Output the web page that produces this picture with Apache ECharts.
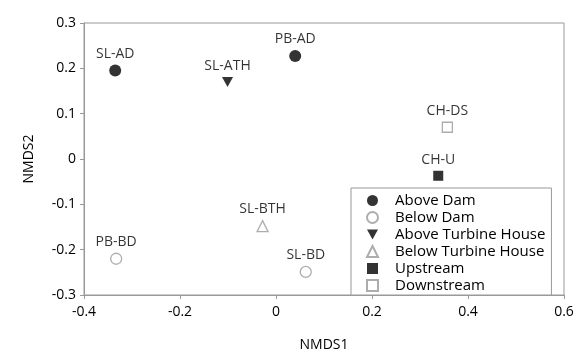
<!DOCTYPE html>
<html><head><meta charset="utf-8">
<script src="https://cdn.jsdelivr.net/npm/echarts@6/dist/echarts.min.js"></script>
<style>html,body{margin:0;padding:0;background:#fff}#c{width:587px;height:363px}</style>
</head><body><div id="c"></div>
<script>
const groups = ["Above Dam","Below Dam","Above Turbine House","Below Turbine House","Upstream","Downstream"];
const aboveDam = [[-0.335,0.195,"SL-AD"],[0.040,0.227,"PB-AD"]];
const belowDam = [[-0.333,-0.220,"PB-BD"],[0.062,-0.249,"SL-BD"]];
const aboveTurbine = [[-0.101,0.170,"SL-ATH"]];
const belowTurbine = [[-0.028,-0.148,"SL-BTH"]];
const upstream = [[0.338,-0.037,"CH-U"]];
const downstream = [[0.357,0.070,"CH-DS"]];
const xTicks = [-0.4,-0.2,0,0.2,0.4,0.6];
const yTicks = [-0.3,-0.2,-0.1,0,0.1,0.2,0.3];

const font = "Open Sans";
const gray = "#999";
const filled = {color:"#000"};
const open = {color:"#fff", borderColor:gray, borderWidth:1.3};
const downTri = "path://M0,0 L10,0 L5,9 Z";
const styles = [
  {symbol:"circle", size:12, item:filled},
  {symbol:"circle", size:11, item:open},
  {symbol:downTri, size:[11,10], item:filled},
  {symbol:"triangle", size:11, item:open},
  {symbol:"rect", size:10, item:filled},
  {symbol:"rect", size:10, item:open}
];
const datasets = [aboveDam,belowDam,aboveTurbine,belowTurbine,upstream,downstream];
const series = groups.map((g,i)=>({
  type:"scatter", name:g, data:datasets[i],
  symbol:styles[i].symbol, symbolSize:styles[i].size,
  itemStyle:styles[i].item,
  label:{show:true, position:"top", distance:4, formatter:p=>p.data[2], color:"#000", fontFamily:font, fontSize:14},
  emphasis:{disabled:true}
}));
const fmt = (ticks)=>v=>{const t=ticks.find(x=>Math.abs(x-v)<1e-9); return t===undefined?"":String(t);};
const chart = echarts.init(document.getElementById("c"));
chart.setOption({
  animation:false,
  grid:{left:84, top:23, width:480, height:272, show:true, borderColor:gray, borderWidth:1, backgroundColor:"transparent"},
  xAxis:{type:"value", min:-0.4, max:0.6, interval:0.2, name:"NMDS1", nameLocation:"middle", nameGap:43,
    nameTextStyle:{fontFamily:font, fontSize:14, color:"#000"},
    axisLine:{show:true, onZero:false, lineStyle:{color:gray}}, axisTick:{show:true, length:4, lineStyle:{color:gray}},
    splitLine:{show:false},
    axisLabel:{fontFamily:font, fontSize:14, color:"#000", margin:10, formatter:fmt(xTicks)}},
  yAxis:{type:"value", min:-0.3, max:0.3, interval:0.1, name:"NMDS2", nameLocation:"middle", nameGap:48,
    nameTextStyle:{fontFamily:font, fontSize:14, color:"#000"},
    axisLine:{show:true, onZero:false, lineStyle:{color:gray}}, axisTick:{show:true, length:4, lineStyle:{color:gray}},
    splitLine:{show:false},
    axisLabel:{fontFamily:font, fontSize:14, color:"#000", margin:8, formatter:fmt(yTicks)}},
  legend:{orient:"vertical", left:351, top:188, width:207, padding:[5,6,2,15], itemGap:2, itemWidth:11, itemHeight:11,
    backgroundColor:"#fff", borderColor:gray, borderWidth:1, borderRadius:0,
    textStyle:{fontFamily:font, fontSize:15, color:"#000", lineHeight:14.2, padding:[0,0,0,12]},
    data:groups, selectedMode:false},
  series:series
});
</script></body></html>
